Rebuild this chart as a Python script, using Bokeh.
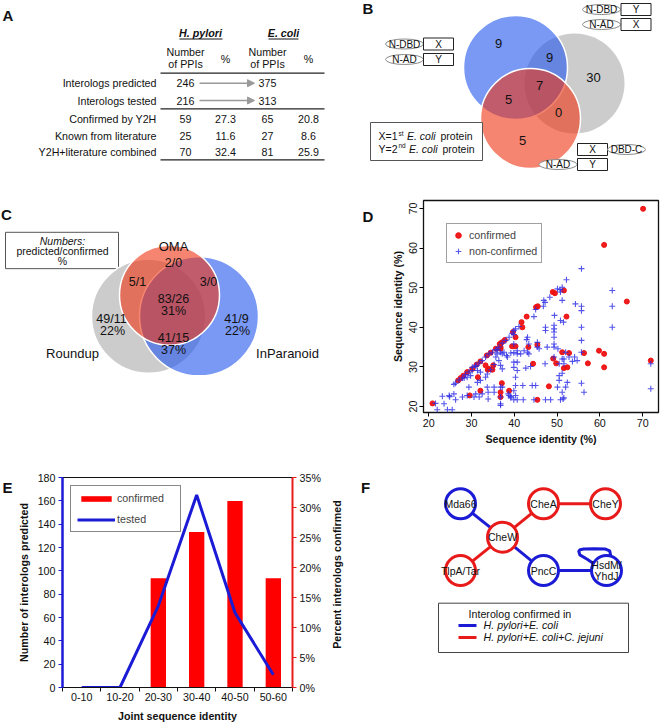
import math
from bokeh.plotting import figure
from bokeh.models import (Range1d, LinearAxis, Legend, LegendItem, FixedTicker,
                          SingleIntervalTicker, PrintfTickFormatter, Arrow, NormalHead)
from bokeh.layouts import column, row
from bokeh.embed import file_html
from bokeh.resources import INLINE
from bokeh.core.properties import value

FONT = "Liberation Sans"
BASE = "10.7px"
BLUE = "#1b1bd6"
RED = "#e81a1a"

# ======================= DATA =======================
# A: interolog table
table_species = ["H. pylori", "E. coli"]
table_rows = ["Interologs predicted", "Interologs tested", "Confirmed by Y2H",
              "Known from literature", "Y2H+literature combined"]
hp_ppis = [246, 216, 59, 25, 70]
hp_pct = [None, None, 27.3, 11.6, 32.4]
ec_ppis = [375, 313, 65, 27, 81]
ec_pct = [None, None, 20.8, 8.6, 25.9]

# B: Venn of three Y2H vector configurations
b_regions = ["A only", "A+B", "B only", "A+B+C", "A+C", "B+C", "C only"]
b_counts = [9, 9, 30, 7, 5, 0, 5]

# C: Venn of ortholog databases
c_sets = ["OMA", "Roundup", "InParanoid"]
c_regions = ["OMA", "OMA+Roundup", "OMA+InParanoid", "all", "Roundup", "InParanoid", "Roundup+InParanoid"]
c_predicted = [2, 5, 3, 83, 49, 41, 41]
c_confirmed = [0, 1, 0, 26, 11, 9, 15]
c_percent = [None, None, None, 31, 22, 22, 37]

# D: sequence identity scatter
conf_x = [70.1, 61.0, 66.3, 71.9, 61.0, 61.0, 59.8, 56.3, 57.2, 52.2,
          51.6, 49.0, 49.5, 45.5, 45.1, 42.9, 41.7, 41.9, 39.7, 40.3,
          39.5, 40.3, 43.3, 45.4, 44.4, 45.4, 48.1, 49.1, 49.8, 51.2,
          51.6, 52.4, 52.8, 26.9, 27.5, 28.1, 29.0, 30.2, 31.2, 32.1,
          33.6, 34.5, 35.7, 36.6, 37.8, 36.8, 37.1, 33.3, 33.8, 34.9,
          31.5, 32.1, 29.6, 37.1, 36.8, 38.8, 20.9, 35.1, 36.8, 34.1, 36.8]
conf_y = [69.9, 60.8, 46.5, 31.6, 33.3, 29.9, 34.1, 33.5, 30.9, 42.7,
          49.3, 48.9, 48.6, 45.3, 45.1, 42.7, 41.3, 40.0, 38.8, 37.5,
          35.2, 35.2, 35.0, 35.6, 30.8, 21.7, 25.1, 32.1, 30.9, 33.7,
          29.7, 29.9, 33.5, 26.6, 27.2, 27.8, 28.7, 29.5, 30.6, 31.4,
          32.9, 33.6, 34.6, 35.8, 36.8, 35.0, 36.2, 30.4, 29.3, 29.3,
          27.4, 24.0, 22.8, 25.9, 23.6, 24.0, 20.8, 30.4, 34.6, 29.5, 22.4]
nonconf_x = [71.9, 71.9, 62.9, 62.9, 62.9, 55.7, 55.7, 55.7, 55.7, 55.7, 55.7, 55.7, 56.3, 54.3, 54.1, 54.7,
             52.2, 51.2, 50.7, 50.1, 50.8, 51.2, 48.3, 46.9, 46.8, 47.2, 45.0, 44.6, 49.4, 50.8, 51.5,
             49.3, 49.3, 49.3, 49.3, 47.3, 47.3, 49.3, 49.3, 50.2, 52.0,
             49.3, 50.5, 51.2, 51.6, 52.8, 53.6, 51.6,
             51.2, 50.5, 50.5, 50.1, 52.4, 52.0, 51.2, 51.6, 50.8,
             47.2, 45.4, 45.4, 45.8, 47.7,
             43.1, 42.9, 43.4, 43.4, 43.8, 42.7, 43.1, 42.3,
             39.9, 39.9, 39.9, 40.7, 39.9, 40.7, 41.5, 39.2, 38.4,
             39.9, 40.7, 39.9, 40.7, 40.3, 40.3, 39.9, 40.3, 39.9, 39.2, 40.7,
             42.0, 44.2, 45.0, 42.1, 44.6, 47.3, 48.5, 51.4,
             38.6, 38.8, 39.2,
             36.0, 36.8, 37.2, 36.0, 37.6, 38.2, 35.7, 36.4, 36.8, 37.2, 35.3, 34.5,
             36.8, 36.8, 36.8, 36.8, 37.2, 35.3, 35.3,
             33.7, 33.9, 33.9, 32.5, 31.8, 31.0, 30.6,
             32.1, 31.4, 33.3, 33.7, 32.1, 31.4, 31.0, 30.2, 29.8, 29.0, 28.3, 29.4, 29.0, 27.9,
             25.9, 25.9, 26.3, 24.8, 23.6, 23.2, 22.0, 24.4, 25.5, 24.9, 21.6,
             26.3, 27.1, 27.9, 28.6, 29.4, 30.2, 31.0, 31.8, 32.5, 33.3, 34.1, 34.9, 35.7, 36.4,
             37.2, 38.0, 38.8, 39.5, 40.3, 41.1]
nonconf_y = [30.8, 24.5, 49.3, 45.3, 40.0, 54.8, 45.3, 44.2, 40.0, 36.7, 33.7, 25.9, 23.6, 45.9, 32.5, 31.6,
             52.0, 50.1, 49.5, 49.7, 48.9, 46.8, 47.6, 46.8, 45.3, 46.3, 44.5, 42.7, 43.0, 41.7, 41.3,
             40.5, 39.6, 38.8, 37.5, 40.0, 39.2, 35.8, 35.0, 34.6, 33.7,
             32.5, 30.8, 32.0, 32.0, 32.5, 31.4, 30.8,
             28.4, 27.8, 26.6, 24.9, 26.1, 24.9, 23.6, 22.2, 21.7,
             30.8, 36.2, 35.0, 34.6, 35.0,
             37.5, 36.9, 35.8, 33.3, 30.1, 29.7, 33.7, 34.1,
             39.2, 38.2, 35.8, 34.1, 33.6, 33.3, 33.3, 33.5, 32.5,
             31.2, 31.2, 29.9, 29.1, 27.4, 25.3, 24.0, 22.8, 21.7, 22.5, 21.7,
             25.3, 25.3, 25.3, 21.7, 21.7, 21.7, 21.7, 21.9,
             23.2, 22.8, 22.2,
             34.3, 33.7, 33.3, 33.3, 33.7, 32.9, 32.5, 31.6, 30.4, 29.5, 30.6, 29.3,
             24.9, 22.4, 20.7, 20.3, 24.9, 24.9, 23.6,
             24.9, 23.6, 21.9, 23.2, 22.4, 23.2, 22.4,
             26.6, 26.1, 27.4, 28.2, 28.7, 29.1, 30.1, 29.1, 27.8, 27.4, 27.2, 24.9, 22.8, 22.4,
             25.6, 23.2, 21.7, 22.8, 20.7, 22.6, 19.2, 19.2, 19.2, 22.5, 20.8,
             25.9, 26.7, 27.2, 28.1, 28.7, 29.9, 30.4, 31.0, 31.6, 32.5, 33.3, 33.7, 34.3, 35.0,
             36.0, 36.7, 37.5, 38.5, 39.6, 40.2]

# E: joint sequence identity bins
e_cats = ["0-10", "10-20", "20-30", "30-40", "40-50", "50-60"]
e_tested = [0, 0, 70, 165, 64, 11]
e_confirmed_pct = [0, 0, 18.2, 25.9, 31.1, 18.2]

# F: conserved interolog network
f_nodes = ["Mda66", "CheA", "CheY", "CheW", "TlpA/Tar", "PncC", "HsdM/YhdJ"]
f_node_class = ["HpEc", "HpEcCj", "HpEcCj", "HpEcCj", "HpEcCj", "HpEc", "HpEc"]
f_edges = [("Mda66", "CheW", "HpEc"), ("CheW", "CheA", "HpEcCj"), ("CheA", "CheY", "HpEcCj"),
           ("CheW", "TlpA/Tar", "HpEcCj"), ("CheW", "PncC", "HpEc"), ("PncC", "HsdM/YhdJ", "HpEc"),
           ("HsdM/YhdJ", "HsdM/YhdJ", "HpEc")]
f_class_labels = {"HpEc": "H. pylori+E. coli", "HpEcCj": "H. pylori+E. coli+C. jejuni"}

# ======================= HELPERS =======================
def canvas(w, h, x0, y0):
    p = figure(width=w, height=h, x_range=Range1d(x0, x0 + w), y_range=Range1d(y0 + h, y0),
               x_axis_location=None, y_axis_location=None, toolbar_location=None,
               output_backend="svg", min_border=0)
    p.outline_line_color = None
    p.grid.visible = False
    return p


def texts(p, xs, ys, ts, size=BASE, align="center", style="normal", color="#111111", angle=0.0):
    p.text(x=list(xs), y=list(ys), text=[str(t) for t in ts], text_font=value(FONT),
           text_font_size=value(size), text_align=align, text_baseline="middle",
           text_font_style=style, text_color=color, angle=angle)


def style_axis(ax, label=None):
    ax.major_tick_out = 4
    ax.major_tick_in = 0
    ax.minor_tick_line_color = None
    ax.major_label_text_font = FONT
    ax.major_label_text_font_size = BASE
    ax.major_label_text_color = "#111111"
    if label is not None:
        ax.axis_label = label
        ax.axis_label_text_font = FONT
        ax.axis_label_text_font_size = BASE
        ax.axis_label_text_font_style = "bold"
        ax.axis_label_text_color = "#111111"

# ======================= PANEL A =======================
pa = canvas(330, 180, 0, 0)
texts(pa, [7.5], [15], ["A"], size="15px", style="bold")
sp_x = [200, 283]
texts(pa, sp_x, [32, 32], table_species, style="bold italic")
pa.segment(x0=[179, 268], y0=[38.5, 38.5], x1=[222, 298], y1=[38.5, 38.5], line_color="#111111", line_width=1)
col_x = [185, 225, 267, 308]
texts(pa, [col_x[0], col_x[2]], [51, 51], ["Number", "Number"])
texts(pa, [col_x[0], col_x[2]], [63.5, 63.5], ["of PPIs", "of PPIs"])
texts(pa, [col_x[1], col_x[3]], [58, 58], ["%", "%"])
rule_y = [72.7, 108.3, 159.3]
pa.segment(x0=[160] * 3, y0=rule_y, x1=[324] * 3, y1=rule_y, line_color="#222222", line_width=1.3)
row_y = [82.7, 100, 118.3, 135.7, 151.7]
texts(pa, [156] * len(table_rows), row_y, table_rows, align="right")
for i in range(len(table_rows)):
    cells = [(col_x[0], hp_ppis[i]), (col_x[1], hp_pct[i]), (col_x[2], ec_ppis[i]), (col_x[3], ec_pct[i])]
    for cx, v in cells:
        if v is not None:
            texts(pa, [cx], [row_y[i]], [v])
for i in range(2):
    pa.add_layout(Arrow(x_start=199, y_start=row_y[i], x_end=254, y_end=row_y[i],
                        line_color="#9a9a9a", line_width=1.5,
                        end=NormalHead(size=7, fill_color="#9a9a9a", line_color="#9a9a9a")))

# ======================= PANEL B =======================
pb = canvas(330, 180, 330, 0)
texts(pb, [367.5], [8], ["B"], size="15px", style="bold")
pb.circle(x=[574], y=[83], radius=50, fill_color="#aaaaaa", fill_alpha=0.6, line_color=None)
pb.circle(x=[515], y=[67], radius=52, fill_color="#2255ee", fill_alpha=0.6, line_color="white", line_width=1.5)
pb.circle(x=[530], y=[118], radius=50, fill_color="#ee3311", fill_alpha=0.6, line_color="white", line_width=1.5)
b_pos_x = [498, 549, 593, 539, 508, 558, 522]
b_pos_y = [43, 57, 77, 85, 99, 112, 140]
texts(pb, b_pos_x, b_pos_y, b_counts, size="13px")

constructs = [("ell", 404, 43.5, "N-DBD"), ("box", 438, 43.5, "X"),
              ("ell", 404, 59, "N-AD"), ("box", 438, 59, "Y"),
              ("ell", 601, 9, "N-DBD"), ("box", 635.5, 9, "Y"),
              ("ell", 601, 24, "N-AD"), ("box", 635.5, 24, "X"),
              ("box", 592, 149, "X"), ("ell", 626, 149, "DBD-C"),
              ("ell", 557.5, 164, "N-AD"), ("box", 592, 164, "Y")]
for kind, cx, cy, t in constructs:
    if kind == "ell":
        pb.ellipse(x=[cx], y=[cy], width=38, height=10, fill_color="white", line_color="#8a8a8a", line_width=1)
    else:
        pb.rect(x=[cx], y=[cy], width=30, height=12, fill_color="white", line_color="#222222", line_width=1)
    texts(pb, [cx], [cy], [t], size="10px")

pb.rect(x=[426], y=[141], width=112, height=38, fill_color="white", line_color="#555555", line_width=1)
texts(pb, [378, 378], [135.5, 148], ["X=1", "Y=2"], size="10.5px", align="left")
texts(pb, [398, 398], [132.5, 145], ["st", "nd"], size="6.5px", align="left")
texts(pb, [406.5, 408.5], [135.5, 148], ["E. coli", "E. coli"], size="10.5px", align="left", style="italic")
texts(pb, [440, 442], [135.5, 148], ["protein", "protein"], size="10.5px", align="left")

# ======================= PANEL C (+ letter D) =======================
pc = canvas(380, 280, 0, 180)
texts(pc, [6], [199], ["C"], size="15px", style="bold")
texts(pc, [367.5], [201], ["D"], size="15px", style="bold")
pc.rect(x=[61.5], y=[246], width=113, height=48, fill_color="white", line_color="#555555", line_width=1)
texts(pc, [62], [233], ["Numbers:"], size="10.5px", style="italic")
texts(pc, [62], [246.5], ["predicted/confirmed"], size="10.5px")
texts(pc, [62], [259.5], ["%"], size="10.5px")
pc.circle(x=[148], y=[333], radius=57, fill_color="#aaaaaa", fill_alpha=0.6, line_color="white", line_width=1.5)
pc.circle(x=[198.5], y=[333], radius=59.5, fill_color="#2255ee", fill_alpha=0.6, line_color="white", line_width=1.5)
pc.circle(x=[169], y=[305], radius=50, fill_color="#ee3311", fill_alpha=0.6, line_color="white", line_width=1.5)
c_set_x = [173, 72, 287]
c_set_y = [241, 382, 382]
texts(pc, c_set_x, c_set_y, c_sets, size="13px")
c_pos_x = [173, 137, 208, 173, 111, 236, 173]
c_pos_y = [263, 287, 287, 310, 337, 337, 362]
for i in range(len(c_regions)):
    texts(pc, [c_pos_x[i]], [c_pos_y[i]], [f"{c_predicted[i]}/{c_confirmed[i]}"], size="12.5px")
    if c_percent[i] is not None:
        texts(pc, [c_pos_x[i] + (1 if i in (4, 5) else 0)], [c_pos_y[i] + 15.5], [f"{c_percent[i]}%"], size="12.5px")

# ======================= PANEL D =======================
pd_ = figure(width=280, height=280, x_range=Range1d(18.8, 73.7), y_range=Range1d(18.5, 72.0),
             toolbar_location=None, output_backend="svg",
             min_border_left=43, min_border_right=2, min_border_top=20, min_border_bottom=48)
pd_.grid.visible = False
pd_.outline_line_color = "#111111"
pd_.outline_line_width = 1.3
for ax in (pd_.xaxis[0], pd_.yaxis[0]):
    ax.ticker = FixedTicker(ticks=[20, 30, 40, 50, 60, 70])
    ax.axis_line_color = None
    style_axis(ax, "Sequence identity (%)")
    ax.major_label_standoff = 2
    ax.axis_label_standoff = 3
pd_.yaxis[0].major_label_orientation = "vertical"
r_conf = pd_.scatter(conf_x, conf_y, marker="circle", size=5, fill_color="#ee1111",
                     line_color="#ee1111", fill_alpha=0.95)
r_non = pd_.scatter(nonconf_x, nonconf_y, marker="cross", size=6, line_color="#2a2ae6",
                    line_width=1.1, line_alpha=0.8)
leg_d = Legend(items=[LegendItem(label="confirmed", renderers=[r_conf]),
                      LegendItem(label="non-confirmed", renderers=[r_non])],
               location="top_left", margin=23, padding=4, spacing=2,
               glyph_width=14, glyph_height=14, label_height=14, label_standoff=4,
               label_text_font=FONT, label_text_font_size=BASE,
               border_line_color="#444444", border_line_width=1.2, background_fill_alpha=1)
pd_.add_layout(leg_d)

# ======================= PANEL E =======================
pel = canvas(14, 264, 0, 460)
texts(pel, [7], [473], ["E"], size="15px", style="bold")

pe = figure(width=316, height=264, x_range=Range1d(0, len(e_cats)), y_range=Range1d(0, 180),
            toolbar_location=None, output_backend="svg",
            min_border_left=43, min_border_right=38, min_border_top=17, min_border_bottom=37)
pe.grid.visible = False
pe.outline_line_color = "#111111"
pe.outline_line_width = 1
pe.extra_y_ranges = {"pct": Range1d(0, 35)}
e_x = [i + 0.5 for i in range(len(e_cats))]

r_bar = pe.vbar(x=e_x, top=e_confirmed_pct, width=0.4, y_range_name="pct",
                fill_color="#ff0000", line_color=None)
r_line = pe.line(e_x, e_tested, line_color=BLUE, line_width=3)

xa = pe.xaxis[0]
style_axis(xa, "Joint sequence identity")
xa.ticker = FixedTicker(ticks=e_x, minor_ticks=list(range(len(e_cats) + 1)))
xa.major_label_overrides = {x: c for x, c in zip(e_x, e_cats)}
xa.major_tick_line_color = None
xa.minor_tick_out = 4
xa.minor_tick_in = 0
xa.minor_tick_line_color = "#111111"
xa.axis_line_color = "#111111"
xa.axis_line_width = 1.2
xa.major_label_standoff = 1
xa.axis_label_standoff = 6

ya = pe.yaxis[0]
style_axis(ya, "Number of interologs predicted")
ya.ticker = SingleIntervalTicker(interval=20, num_minor_ticks=0)
ya.axis_line_color = BLUE
ya.axis_line_width = 2.5
ya.major_tick_line_color = BLUE
ya.major_label_standoff = 3
ya.axis_label_standoff = 5

ra = LinearAxis(y_range_name="pct", ticker=SingleIntervalTicker(interval=5, num_minor_ticks=0),
                formatter=PrintfTickFormatter(format="%d%%"))
style_axis(ra)
ra.axis_line_color = RED
ra.axis_line_width = 2
ra.major_tick_line_color = RED
ra.major_label_standoff = 3
pe.add_layout(ra, "right")

leg_e = Legend(items=[LegendItem(label="confirmed", renderers=[r_bar]),
                      LegendItem(label="tested", renderers=[r_line])],
               location="top_left", margin=8, padding=6, spacing=9,
               glyph_width=38, glyph_height=7, label_height=12, label_width=57, label_standoff=2,
               label_text_font=FONT, label_text_font_size=BASE,
               border_line_color="#111111", border_line_width=1.5, background_fill_alpha=1)
pe.add_layout(leg_e)

# ======================= PANEL F (+ right axis title of E) =======================
pf = canvas(330, 264, 330, 460)
texts(pf, [336], [582], ["Percent interologs confirmed"], style="bold", angle=math.pi / 2)
texts(pf, [365], [473], ["F"], size="15px", style="bold")
class_color = {"HpEc": BLUE, "HpEcCj": RED}
node_xy = {"Mda66": (460, 493), "CheA": (543, 493), "CheY": (605, 493), "CheW": (502, 535),
           "TlpA/Tar": (460, 577), "PncC": (543, 577), "HsdM/YhdJ": (606, 577)}
node_lines = {"HsdM/YhdJ": ["HsdM/", "YhdJ"]}
loop_dx = [2.3, 4.0, 3.2, -1.0, -12.0, -22.7, -26.5, -27.7, -26.7, -19.3, -12.7]
loop_dy = [-15.3, -20.0, -24.7, -27.0, -27.3, -27.0, -26.2, -24.3, -19.7, -14.3, -8.7]
for a, b, cls in f_edges:
    ax_, ay_ = node_xy[a]
    bx_, by_ = node_xy[b]
    if a == b:
        pf.line([ax_ + d for d in loop_dx], [ay_ + d for d in loop_dy],
                line_color=class_color[cls], line_width=3, line_join="round")
    else:
        pf.segment(x0=[ax_], y0=[ay_], x1=[bx_], y1=[by_], line_color=class_color[cls], line_width=3)
pf.circle(x=[node_xy[n][0] for n in f_nodes], y=[node_xy[n][1] for n in f_nodes], radius=15,
          fill_color="white", line_color=[class_color[c] for c in f_node_class], line_width=3)
for n in f_nodes:
    nx, ny = node_xy[n]
    lines = node_lines.get(n, [n])
    off = (len(lines) - 1) * 6.5
    for k, ln in enumerate(lines):
        texts(pf, [nx], [ny - off + 13 * k], [ln], size="10.5px")
pf.rect(x=[533], y=[649], width=190, height=62, fill_color="white", line_color="#444444", line_width=1)
texts(pf, [468], [632], ["Interolog confirmed in"], align="left")
leg_keys = ["HpEc", "HpEcCj"]
leg_y = [646, 661]
for k, yy in zip(leg_keys, leg_y):
    pf.segment(x0=[458], y0=[yy], x1=[476], y1=[yy], line_color=class_color[k], line_width=3)
    texts(pf, [483], [yy], [f_class_labels[k]], align="left", style="italic")

layout = column(row(pa, pb), row(pc, pd_), row(pel, pe, pf))
open("out.html", "w").write(file_html(layout, INLINE))
